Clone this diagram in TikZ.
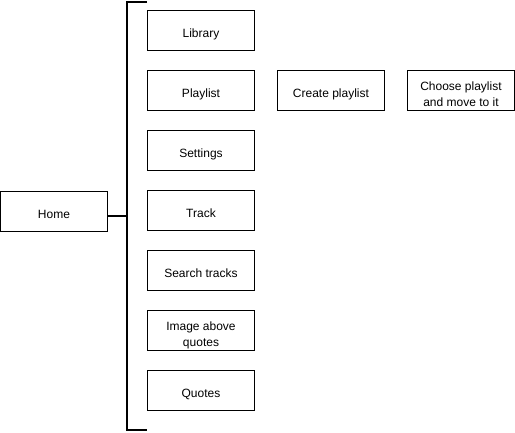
\documentclass[tikz,border=0pt]{standalone}
\usepackage{fontspec}
\setmainfont{Liberation Sans}
\begin{document}
\begin{tikzpicture}[x=1pt,y=-1pt,
  box/.style={draw, line width=1pt, minimum width=107pt, minimum height=40pt, inner sep=0pt, align=center, font=\fontsize{12}{15.6}\selectfont, text height=13.2pt, text depth=0pt},
  twoline/.style={text height=31.2pt, text depth=0pt},
  bracketline/.style={line width=2pt}]
\useasboundingbox[fill=white] (0,0) rectangle (515,432);
\node[box] (home) at (54,211.7) {Home};
\node[box] (library) at (201,30.7) {Library};
\node[box] (playlist) at (201,90.7) {Playlist};
\node[box] (settings) at (201,150.7) {Settings};
\node[box] (track) at (201,210.7) {Track};
\node[box] (search) at (201,270.7) {Search tracks};
\node[box, twoline] (image) at (201,330.7) {Image above\\quotes};
\node[box] (quotes) at (201,390.7) {Quotes};
\node[box] (create) at (331,90.7) {Create playlist};
\node[box, twoline] (choose) at (461,90.7) {Choose playlist\\and move to it};
\coordinate (bt) at (147,2);
\coordinate (bb) at (147,430);
\coordinate (bm) at (127,216);
\draw[bracketline] (bt) -| (bm) |- (bb);
\draw[bracketline] (home.east |- bm) -- (bm);
\end{tikzpicture}
\end{document}
